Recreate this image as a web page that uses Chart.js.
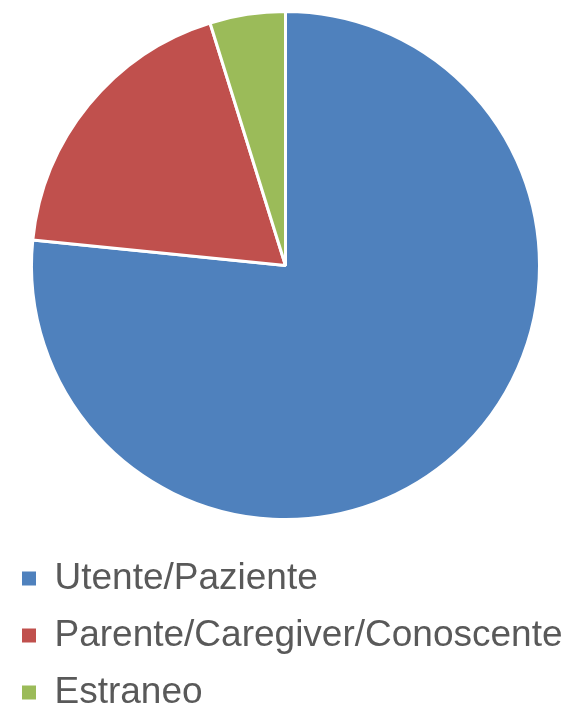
<!DOCTYPE html>
<html>
<head>
<meta charset="utf-8">
<style>
  html, body { margin: 0; padding: 0; background: #ffffff; overflow: hidden; }
  #wrap { width: 565px; height: 707px; position: relative; overflow: hidden; }
  canvas { display: block; }
</style>
<script src="https://cdn.jsdelivr.net/npm/chart.js@4.4.1/dist/chart.umd.min.js"></script>
</head>
<body>
<div id="wrap"><canvas id="c" width="569" height="707"></canvas></div>
<script>
const categories = ["Utente/Paziente", "Parente/Caregiver/Conoscente", "Estraneo"];
const values = [76.6, 18.6, 4.8];
const colors = ["#4F81BD", "#C0504D", "#9BBB59"];

new Chart(document.getElementById('c'), {
  type: 'pie',
  data: {
    labels: categories,
    datasets: [{
      data: values,
      backgroundColor: colors,
      borderColor: '#ffffff',
      borderWidth: 3,
      radius: 254
    }]
  },
  options: {
    responsive: false,
    animation: false,
    layout: { padding: { left: 2, right: 0, top: 0, bottom: 0 } },
    plugins: {
      tooltip: { enabled: false },
      legend: {
        display: true,
        position: 'bottom',
        align: 'start',
        maxHeight: 176,
        title: { display: true, text: '', font: { size: 9, lineHeight: 1 }, padding: 0 },
        labels: {
          boxWidth: 14,
          boxHeight: 14,
          padding: 20,
          color: '#595959',
          font: { family: '"Liberation Sans", Arial, sans-serif', size: 37 },
          generateLabels(chart) {
            const items = Chart.overrides.pie.plugins.legend.labels.generateLabels(chart);
            items.forEach(function (it) { it.lineWidth = 0; it.strokeStyle = it.fillStyle; });
            return items;
          }
        }
      }
    }
  }
});
</script>
</body>
</html>
